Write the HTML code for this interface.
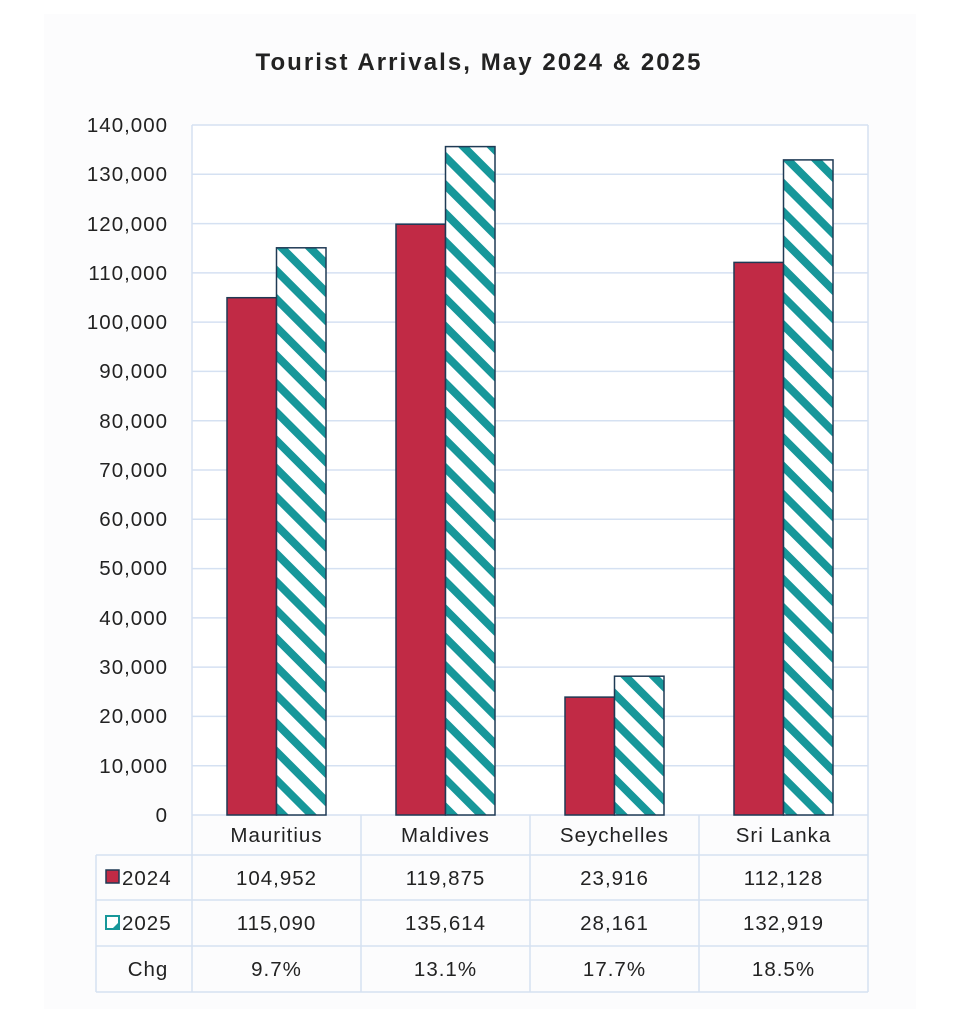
<!DOCTYPE html>
<html><head><meta charset="utf-8"><style>
html,body{margin:0;padding:0;background:#fff}
svg{display:block}
text{font-family:"Liberation Sans",Arial,sans-serif;fill:#222}
.t{font-size:20.5px;letter-spacing:1px}
</style></head><body>
<svg width="962" height="1016" viewBox="0 0 962 1016" xmlns="http://www.w3.org/2000/svg">
<defs>
<pattern id="hatch" patternUnits="userSpaceOnUse" width="20" height="20" patternTransform="rotate(-45)">
<rect width="20" height="20" fill="#fff"/>
<rect x="0" y="0" width="8" height="20" fill="#17979a"/>
</pattern>
</defs>
<rect x="44" y="14" width="872" height="995" fill="#fcfcfd"/>
<text x="478" y="70" text-anchor="middle" font-size="24" font-weight="bold" textLength="445" lengthAdjust="spacing">Tourist Arrivals, May 2024 &amp; 2025</text>
<rect x="192" y="125" width="676" height="690" fill="#fff"/>
<g stroke="#d5e1f2" stroke-width="1.5">
<line x1="192" y1="125" x2="868" y2="125"/><line x1="192" y1="174.3" x2="868" y2="174.3"/>
<line x1="192" y1="223.6" x2="868" y2="223.6"/><line x1="192" y1="272.9" x2="868" y2="272.9"/>
<line x1="192" y1="322.1" x2="868" y2="322.1"/><line x1="192" y1="371.4" x2="868" y2="371.4"/>
<line x1="192" y1="420.7" x2="868" y2="420.7"/><line x1="192" y1="470" x2="868" y2="470"/>
<line x1="192" y1="519.3" x2="868" y2="519.3"/><line x1="192" y1="568.6" x2="868" y2="568.6"/>
<line x1="192" y1="617.9" x2="868" y2="617.9"/><line x1="192" y1="667.1" x2="868" y2="667.1"/>
<line x1="192" y1="716.4" x2="868" y2="716.4"/><line x1="192" y1="765.7" x2="868" y2="765.7"/>
<line x1="192" y1="125" x2="192" y2="992"/><line x1="868" y1="125" x2="868" y2="992"/>
<line x1="192" y1="815" x2="868" y2="815"/>
<line x1="361" y1="815" x2="361" y2="992"/><line x1="530" y1="815" x2="530" y2="992"/><line x1="699" y1="815" x2="699" y2="992"/>
<line x1="96" y1="855" x2="868" y2="855"/><line x1="96" y1="900" x2="868" y2="900"/>
<line x1="96" y1="946" x2="868" y2="946"/><line x1="96" y1="992" x2="868" y2="992"/>
<line x1="96" y1="855" x2="96" y2="992"/>
</g>
<g class="t" text-anchor="end">
<text x="168" y="132">140,000</text><text x="168" y="181">130,000</text><text x="168" y="231">120,000</text>
<text x="168" y="280">110,000</text><text x="168" y="329">100,000</text><text x="168" y="378">90,000</text>
<text x="168" y="428">80,000</text><text x="168" y="477">70,000</text><text x="168" y="526">60,000</text>
<text x="168" y="575">50,000</text><text x="168" y="625">40,000</text><text x="168" y="674">30,000</text>
<text x="168" y="723">20,000</text><text x="168" y="773">10,000</text><text x="168" y="822">0</text>
</g>
<g stroke="#1f3a55" stroke-width="1.5">
<rect x="227" y="297.7" width="49.5" height="517.3" fill="#c12a45"/>
<rect x="276.5" y="247.8" width="49.5" height="567.2" fill="url(#hatch)"/>
<rect x="396" y="224.2" width="49.5" height="590.8" fill="#c12a45"/>
<rect x="445.5" y="146.6" width="49.5" height="668.4" fill="url(#hatch)"/>
<rect x="565" y="697.1" width="49.5" height="117.9" fill="#c12a45"/>
<rect x="614.5" y="676.2" width="49.5" height="138.8" fill="url(#hatch)"/>
<rect x="734" y="262.4" width="49.5" height="552.6" fill="#c12a45"/>
<rect x="783.5" y="159.9" width="49.5" height="655.1" fill="url(#hatch)"/>
</g>
<g class="t" text-anchor="middle">
<text x="276.5" y="842">Mauritius</text><text x="445.5" y="842">Maldives</text>
<text x="614.5" y="842">Seychelles</text><text x="783.5" y="842">Sri Lanka</text>
<text x="276.5" y="885">104,952</text><text x="445.5" y="885">119,875</text>
<text x="614.5" y="885">23,916</text><text x="783.5" y="885">112,128</text>
<text x="276.5" y="930">115,090</text><text x="445.5" y="930">135,614</text>
<text x="614.5" y="930">28,161</text><text x="783.5" y="930">132,919</text>
<text x="276.5" y="976">9.7%</text><text x="445.5" y="976">13.1%</text>
<text x="614.5" y="976">17.7%</text><text x="783.5" y="976">18.5%</text>
<text x="148" y="976">Chg</text>
</g>
<rect x="106" y="870" width="13" height="13" fill="#c12a45" stroke="#1f3a55" stroke-width="1.5"/>
<text x="122" y="885" class="t">2024</text>
<rect x="106" y="916" width="13" height="13" fill="#fff" stroke="#17979a" stroke-width="2"/>
<polygon points="112,929 119,922 119,929" fill="#17979a"/>
<text x="122" y="930" class="t">2025</text>
</svg>
</body></html>
